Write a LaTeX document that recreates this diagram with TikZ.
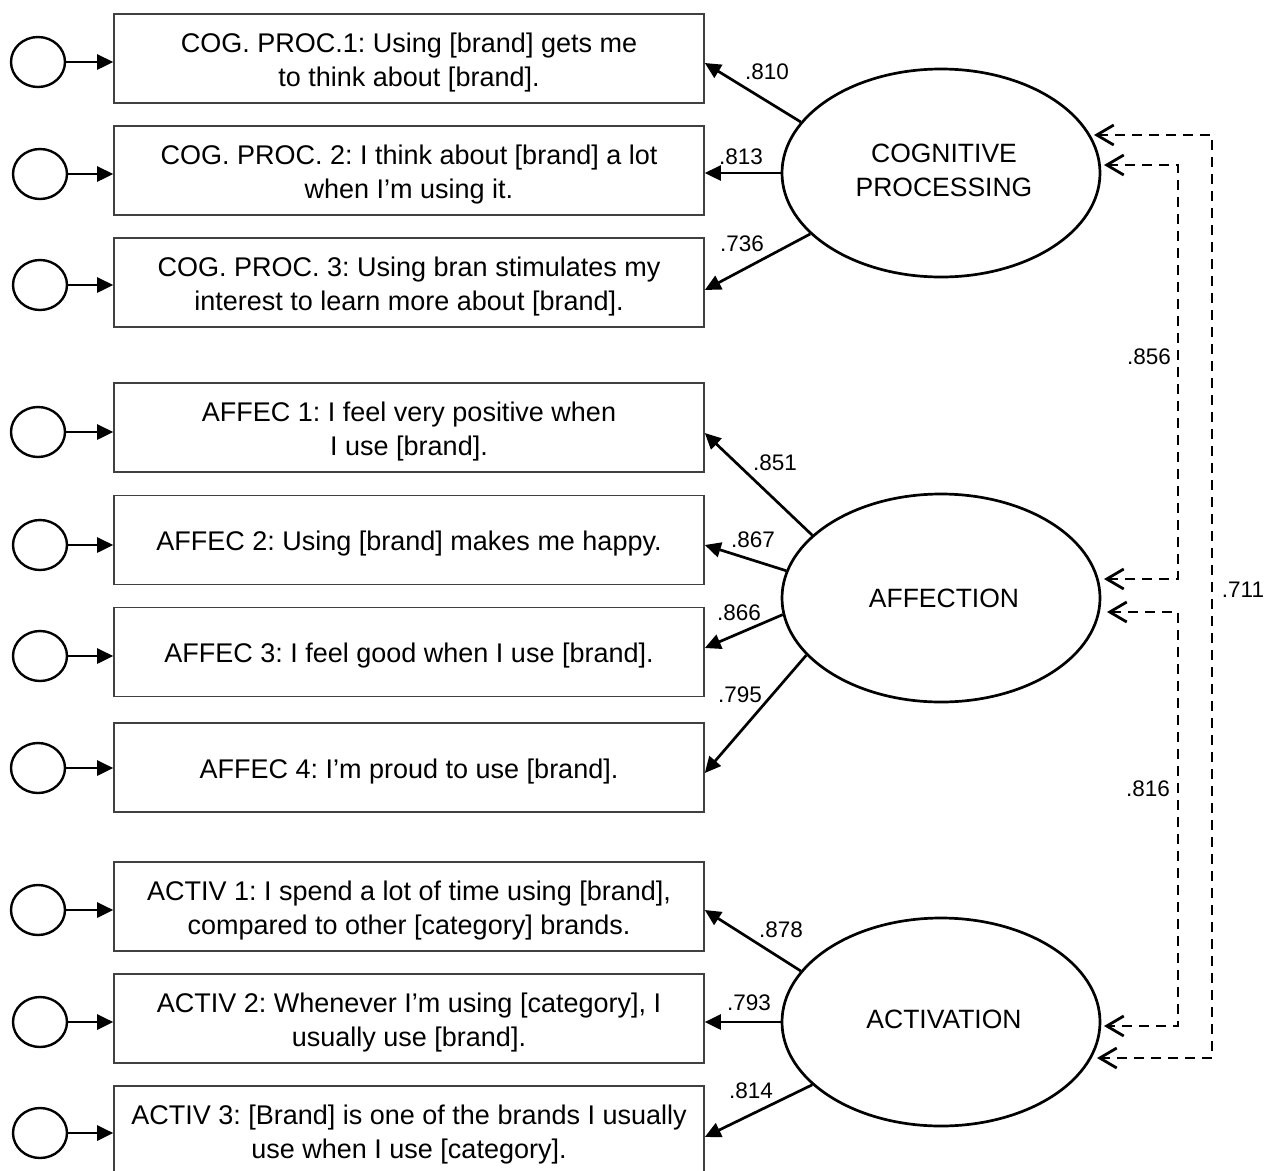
\documentclass[tikz,border=0pt]{standalone}
\usepackage{fontspec}
\setmainfont{Liberation Sans}
\usetikzlibrary{arrows.meta,shapes.geometric,calc}
\newcommand\itemfont{\fontsize{27bp}{34bp}\selectfont}
\newcommand\latfont{\fontsize{26.5bp}{34bp}\selectfont}
\newcommand\loadfont{\fontsize{22.5bp}{27bp}\selectfont}
\frenchspacing
\begin{document}
\begin{tikzpicture}[x=1bp,y=-1bp,
  itembox/.style={draw=black!75, line width=1.6bp, rectangle, minimum width=590bp, minimum height=89bp, inner sep=0pt},
  itemtext/.style={inner sep=0pt, align=center, font=\itemfont},
  lattext/.style={inner sep=0pt, align=center, font=\latfont},
  latent/.style={draw, line width=2.7bp, ellipse, minimum width=318bp, minimum height=208bp, inner sep=0pt},
  errc/.style={draw, line width=2.4bp, ellipse, minimum width=54bp, minimum height=50bp, inner sep=0pt},
  load/.style={line width=2.7bp, -{Triangle[length=16bp,width=15bp]}},
  corr/.style={line width=2.8bp, dash pattern=on 10bp off 7bp, {Straight Barb[length=17bp,width=20bp]}-{Straight Barb[length=17bp,width=20bp]}},
  lab/.style={font=\loadfont, inner sep=0pt}
]
\useasboundingbox (0,0) rectangle (1270,1171);

% indicator boxes
\node[itembox] (b1) at (409,58.5) {};
\node[itembox] (b2) at (409,170.5) {};
\node[itembox] (b3) at (409,282.5) {};
\node[itembox] (b4) at (409,427.5) {};
\node[itembox] (b5) at (409,540) {};
\node[itembox] (b6) at (409,652) {};
\node[itembox] (b7) at (409,767.5) {};
\node[itembox] (b8) at (409,906.5) {};
\node[itembox] (b9) at (409,1018.5) {};
\node[itembox] (b10) at (409,1130.5) {};

\node[itemtext] (t1) at ($(b1.center)+(0,4)$) {COG. PROC.1: Using [brand] gets me\\to think about [brand].};
\node[itemtext] (t2) at ($(b2.center)+(0,4)$) {COG. PROC. 2: I think about [brand] a lot\\when I’m using it.};
\node[itemtext] (t3) at ($(b3.center)+(0,4)$) {COG. PROC. 3: Using bran stimulates my\\interest to learn more about [brand].};
\node[itemtext] (t4) at ($(b4.center)+(0,4)$) {AFFEC 1: I feel very positive when\\I use [brand].};
\node[itemtext] (t5) at ($(b5.center)+(0,4)$) {AFFEC 2: Using [brand] makes me happy.};
\node[itemtext] (t6) at ($(b6.center)+(0,4)$) {AFFEC 3: I feel good when I use [brand].};
\node[itemtext] (t7) at ($(b7.center)+(0,4)$) {AFFEC 4: I’m proud to use [brand].};
\node[itemtext] (t8) at ($(b8.center)+(0,4)$) {ACTIV 1: I spend a lot of time using [brand],\\compared to other [category] brands.};
\node[itemtext] (t9) at ($(b9.center)+(0,4)$) {ACTIV 2: Whenever I’m using [category], I\\usually use [brand].};
\node[itemtext] (t10) at ($(b10.center)+(0,4)$) {ACTIV 3: [Brand] is one of the brands I usually\\use when I use [category].};

% error terms
\node[errc] (e1) at (38,62) {};
\node[errc] (e2) at (40,174) {};
\node[errc] (e3) at (40,285) {};
\node[errc] (e4) at (38,432) {};
\node[errc] (e5) at (40,545) {};
\node[errc] (e6) at (40,656) {};
\node[errc] (e7) at (38,768) {};
\node[errc] (e8) at (38,910) {};
\node[errc] (e9) at (40,1022) {};
\node[errc] (e10) at (40,1133) {};
\foreach \i in {1,...,10} {
  \draw[load] (e\i.east) -- (e\i.east -| b\i.west);
}

% latent variables
\node[latent] (cp) at (941,173) {};
\node[latent] (af) at (941,598) {};
\node[latent] (ac) at (941,1022) {};
\node[lattext] (cpt) at ($(cp.center)+(3,-3)$) {COGNITIVE\\PROCESSING};
\node[lattext] (aft) at ($(af.center)+(3,0)$) {AFFECTION};
\node[lattext] (act) at ($(ac.center)+(3,-3)$) {ACTIVATION};

% loadings
\draw[load] (cp.160.9) -- ($(b1.east)+(0,4.5)$);
\draw[load] (cp.west) -- (cp.west -| b2.east);
\draw[load] (cp.205.7) -- ($(b3.east)+(0,7.5)$);

\draw[load] (af.154.3) -- ($(b4.east)+(0,5.5)$);
\draw[load] (af.170.2) -- ($(b5.east)+(0,5)$);
\draw[load] (af.186.5) -- ($(b6.east)+(0,-4)$);
\draw[load] (af.203.2) -- ($(b7.east)+(0,5.5)$);

\draw[load] (ac.160.6) -- ($(b8.east)+(0,3.5)$);
\draw[load] (ac.west) -- (ac.west -| b9.east);
\draw[load] (ac.206) -- ($(b10.east)+(0,6.5)$);

% loading labels
\node[lab] (l1) at (767,72) {.810};
\node[lab] (l2) at (741,157) {.813};
\node[lab] (l3) at (742,244) {.736};
\node[lab] (l4) at (775,463) {.851};
\node[lab] (l5) at (753,540) {.867};
\node[lab] (l6) at (739,613) {.866};
\node[lab] (l7) at (740,695) {.795};
\node[lab] (l8) at (781,930) {.878};
\node[lab] (l9) at (749,1003) {.793};
\node[lab] (l10) at (751,1091) {.814};

% correlations
\coordinate (ox) at (1212,0);
\coordinate (ix) at (1178,0);
\coordinate (cpo) at ($(cp.center)+(153,-38)$);
\coordinate (cpi) at ($(cp.center)+(163,-8)$);
\coordinate (afa) at ($(af.center)+(163,-19)$);
\coordinate (afb) at ($(af.center)+(166,14)$);
\coordinate (aci) at ($(ac.center)+(163,4)$);
\coordinate (aco) at ($(ac.center)+(156,36)$);

\draw[corr] (cpo) -- (cpo -| ox) |- (aco);
\draw[corr] (cpi) -- (cpi -| ix) |- (afa);
\draw[corr] (afb) -- (afb -| ix) |- (aci);

\node[lab] (r1) at (1149,357) {.856};
\node[lab] (r2) at (1148,789) {.816};
\node[lab] (r3) at (1243,590) {.711};
\end{tikzpicture}
\end{document}
